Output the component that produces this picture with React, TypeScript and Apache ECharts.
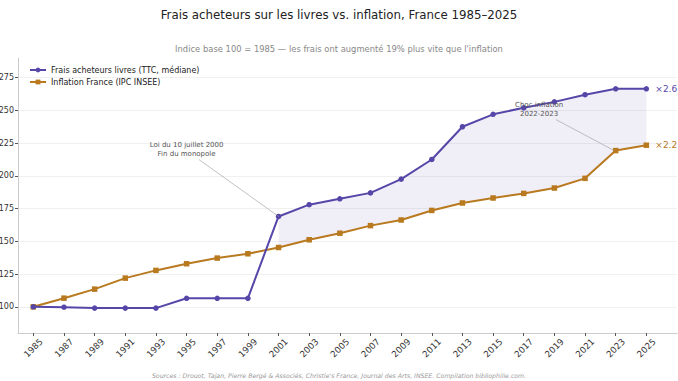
import React, { useEffect, useRef } from "react";
import * as echarts from "echarts";

const years = [1985, 1987, 1989, 1991, 1993, 1995, 1997, 1999, 2001, 2003, 2005, 2007, 2009, 2011, 2013, 2015, 2017, 2019, 2021, 2023, 2025];
const frais = [100, 99.7, 99, 99, 99, 106.5, 106.5, 106.5, 169, 178, 182.5, 187, 197.5, 212.5, 237.5, 247, 252, 256.5, 262, 266.5, 266.5];
const inflation = [100, 106.6, 113.5, 121.9, 127.8, 132.9, 137.2, 140.5, 145.3, 151.2, 156.2, 162, 166.3, 173.6, 179.3, 183.1, 186.6, 190.7, 198.1, 219.3, 223.4];
const yTicks = [100, 125, 150, 175, 200, 225, 250, 275];
const fillFrom = 2001;

const FONT = "DejaVu Sans";
const PURPLE = "#5546a8";
const ORANGE = "#b8791f";

export default function App() {
  const ref = useRef<HTMLDivElement>(null);
  useEffect(() => {
    const chart = echarts.init(ref.current!, null, { renderer: "svg" });
    const fillIdx = years.map((y, i) => i).filter((i) => years[i] >= fillFrom);
    const option: any = {
      animation: false,
      textStyle: { fontFamily: FONT },
      title: [
        { text: "Frais acheteurs sur les livres vs. inflation, France 1985–2025", left: "center", top: 4, textStyle: { fontFamily: FONT, fontSize: 11.8, fontWeight: "normal", color: "#222" } },
        { text: "Indice base 100 = 1985 — les frais ont augmenté 19% plus vite que l'inflation", left: "center", top: 40, textStyle: { fontFamily: FONT, fontSize: 8.4, fontWeight: "normal", color: "#888" } },
        { text: "Sources : Drouot, Tajan, Pierre Bergé & Associés, Christie's France, Journal des Arts, INSEE. Compilation bibliophilie.com.", left: "center", top: 367, textStyle: { fontFamily: FONT, fontSize: 6.2, fontStyle: "italic", fontWeight: "normal", color: "#999" } },
      ],
      legend: {
        data: ["Frais acheteurs livres (TTC, médiane)", "Inflation France (IPC INSEE)"],
        orient: "vertical",
        left: 24,
        top: 61,
        itemWidth: 16,
        itemHeight: 6,
        itemGap: 4,
        textStyle: { fontFamily: FONT, fontSize: 8, color: "#222" },
      },
      grid: { left: 18, right: 1, top: 58, bottom: 48, containLabel: false, outerBoundsMode: "none" },
      xAxis: {
        type: "value",
        min: 1984,
        max: 2027,
        axisLine: { show: true, lineStyle: { color: "#ccc" } },
        axisTick: { show: true, length: 3, lineStyle: { color: "#555" }, customValues: years },
        axisLabel: { customValues: years, rotate: 45, align: "center", verticalAlign: "middle", fontSize: 8.8, color: "#333", fontFamily: FONT, margin: 15, formatter: (v: number) => String(v) },
        splitLine: { show: false },
      },
      yAxis: {
        type: "value",
        min: 80,
        max: 290,
        axisLine: { show: true, lineStyle: { color: "#ccc" } },
        axisTick: { show: true, length: 3, lineStyle: { color: "#555" }, customValues: yTicks },
        axisLabel: { customValues: yTicks, fontSize: 8, color: "#333", fontFamily: FONT, margin: 4 },
        splitLine: { show: true, lineStyle: { color: "#f0f0f0", width: 1 } },
      },
      series: [
        {
          name: "fill",
          type: "custom",
          silent: true,
          data: [0],
          z: 1,
          renderItem: (params: any, api: any) => {
            const top = fillIdx.map((i) => api.coord([years[i], frais[i]]));
            const bottom = fillIdx.slice().reverse().map((i) => api.coord([years[i], inflation[i]]));
            return {
              type: "polygon",
              shape: { points: top.concat(bottom) },
              style: { fill: "rgba(85,70,168,0.09)", stroke: "none" },
            };
          },
        },
        {
          name: "Frais acheteurs livres (TTC, médiane)",
          type: "line",
          data: years.map((y, i) => [y, frais[i]]),
          symbol: "circle",
          symbolSize: 5.5,
          itemStyle: { color: PURPLE },
          lineStyle: { color: PURPLE, width: 2 },
          endLabel: { show: true, formatter: "×2.6", color: PURPLE, fontSize: 9, fontFamily: FONT, distance: 9 },
          z: 3,
        },
        {
          name: "Inflation France (IPC INSEE)",
          type: "line",
          data: years.map((y, i) => [y, inflation[i]]),
          symbol: "rect",
          symbolSize: 5.5,
          itemStyle: { color: ORANGE },
          lineStyle: { color: ORANGE, width: 2 },
          endLabel: { show: true, formatter: "×2.2", color: ORANGE, fontSize: 9, fontFamily: FONT, distance: 9 },
          markLine: {
            silent: true,
            symbol: ["none", "none"],
            lineStyle: { color: "#999", width: 0.6, type: "solid" },
            label: { show: false },
            data: [
              [{ coord: [1995.8, 212.5] }, { coord: [2001, 169] }],
              [{ coord: [2019.1, 243] }, { coord: [2022.9, 219.3] }],
            ],
          },
          markPoint: {
            silent: true,
            symbol: "circle",
            symbolSize: 0,
            label: { show: true, position: "inside", fontSize: 7, color: "#555", fontFamily: FONT, lineHeight: 9, align: "center" },
            data: [
              { coord: [1995, 220], value: "Loi du 10 juillet 2000\nFin du monopole" },
              { coord: [2018, 250.5], value: "Choc inflation\n2022-2023" },
            ],
          },
          z: 2,
        },
      ],
    };
    chart.setOption(option);
    return () => chart.dispose();
  }, []);
  return <div ref={ref} style={{ width: 678, height: 381, position: "absolute", left: 0, top: 0 }} />;
}
